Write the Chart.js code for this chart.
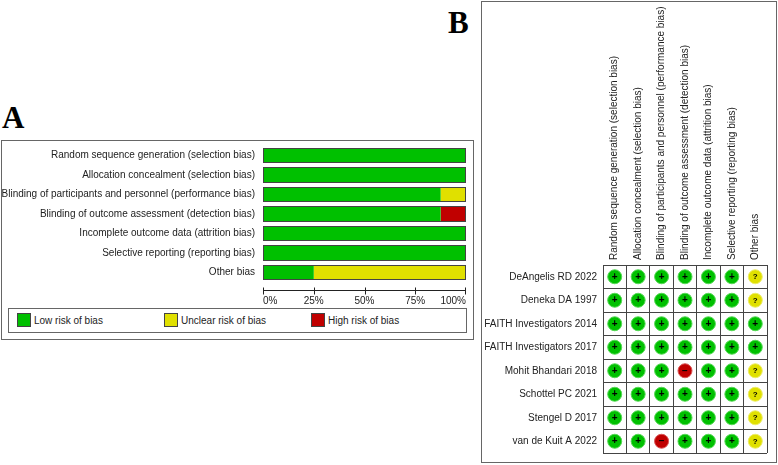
<!DOCTYPE html>
<html>
<head>
<meta charset="utf-8">
<script src="https://cdn.jsdelivr.net/npm/chart.js@4/dist/chart.umd.min.js"></script>
<style>
  body { margin: 0; background: #fff; width: 778px; height: 465px; position: relative; overflow: hidden; }
  .abs { position: absolute; }
  .letter { font-family: "Liberation Serif", serif; font-weight: bold; font-size: 31px; line-height: 31px; color: #000; }
  .frame { border: 1px solid #666; box-sizing: border-box; }
  #legendA { left: 8px; top: 308px; width: 459px; height: 25px; font-family: "Liberation Sans", Arial, sans-serif; font-size: 10px; color: #222; }
  .item { position: absolute; top: 4px; height: 14px; line-height: 15px; white-space: nowrap; }
  .sw { display: inline-block; width: 12px; height: 12px; border: 1px solid #444; vertical-align: top; margin-right: 3px; }
</style>
</head>
<body>
<div class="abs letter" style="left:2px; top:102px;">A</div>
<div class="abs letter" style="left:448px; top:7px;">B</div>

<div class="abs frame" style="left:1px; top:140px; width:473px; height:200px;"></div>
<div class="abs frame" id="legendA"></div>
<canvas id="summary" class="abs" style="left:0px; top:140px;" width="473" height="168"></canvas>

<div class="abs frame" style="left:481px; top:1px; width:296px; height:462px;"></div>
<canvas id="traffic" class="abs" style="left:482px; top:2px;" width="293" height="459"></canvas>

<script>
// risk of bias domains
const domains = [
  'Random sequence generation (selection bias)',
  'Allocation concealment (selection bias)',
  'Blinding of participants and personnel (performance bias)',
  'Blinding of outcome assessment (detection bias)',
  'Incomplete outcome data (attrition bias)',
  'Selective reporting (reporting bias)',
  'Other bias'
];

// panel A: % of studies per judgement
const lowPct     = [100, 100, 87.5, 87.5, 100, 100, 25];
const unclearPct = [0, 0, 12.5, 0, 0, 0, 75];
const highPct    = [0, 0, 0, 12.5, 0, 0, 0];
const pctTicks = [0, 25, 50, 75, 100];

// panel B: judgement per study, one per domain ('+' low, '?' unclear, '-' high)
const studies = [
  'DeAngelis RD 2022',
  'Deneka DA 1997',
  'FAITH Investigators 2014',
  'FAITH Investigators 2017',
  'Mohit Bhandari 2018',
  'Schottel PC 2021',
  'Stengel D 2017',
  'van de Kuit A 2022'
];
const judgements = [
  ['+', '+', '+', '+', '+', '+', '?'],
  ['+', '+', '+', '+', '+', '+', '?'],
  ['+', '+', '+', '+', '+', '+', '+'],
  ['+', '+', '+', '+', '+', '+', '+'],
  ['+', '+', '+', '-', '+', '+', '?'],
  ['+', '+', '+', '+', '+', '+', '?'],
  ['+', '+', '+', '+', '+', '+', '?'],
  ['+', '+', '-', '+', '+', '+', '?']
];

const levelNames  = ['Low risk of bias', 'Unclear risk of bias', 'High risk of bias'];
const levelColors = ['#00c000', '#e0e000', '#c00000'];
const levelRims   = ['#55d855', '#ecec66', '#d85555'];
const levelSigns  = ['+', '?', '-'];
const levelGlyphs = ['+', '?', '\u2212'];

const FONT = "'Liberation Sans', Arial, sans-serif";
Chart.defaults.font.family = FONT;
Chart.defaults.font.size = 10;
Chart.defaults.color = '#222';

// keep the chart area exactly where the scales are fitted
function noPad(s) {
  s.paddingTop = 0; s.paddingBottom = 0; s.paddingLeft = 0; s.paddingRight = 0;
}

// legend for panel A
const legendPos = [8, 155, 302];
const legendEl = document.getElementById('legendA');
levelNames.forEach((name, i) => {
  const d = document.createElement('div');
  d.className = 'item';
  d.style.left = legendPos[i] + 'px';
  d.innerHTML = '<span class="sw" style="background:' + levelColors[i] + '"></span>' + name;
  legendEl.appendChild(d);
});

// outline around each whole row + separated axis line
const summaryPlugin = {
  id: 'summaryPlugin',
  afterDatasetsDraw(chart) {
    const ctx = chart.ctx;
    const xs = chart.scales.x;
    const meta = chart.getDatasetMeta(0);
    const x0 = Math.round(xs.getPixelForValue(0)) + 0.5;
    const x1 = Math.round(xs.getPixelForValue(100)) - 0.5;
    ctx.save();
    ctx.strokeStyle = '#444';
    ctx.lineWidth = 1;
    meta.data.forEach(bar => {
      const t = Math.round(bar.y - bar.height / 2) + 0.5;
      const b = Math.round(bar.y + bar.height / 2) - 0.5;
      ctx.strokeRect(x0, t, x1 - x0, b - t);
    });
    const ay = Math.round(chart.chartArea.bottom + 8) + 0.5;
    ctx.strokeStyle = '#222';
    ctx.beginPath();
    ctx.moveTo(x0, ay);
    ctx.lineTo(x1, ay);
    pctTicks.forEach(v => {
      const px = Math.round(xs.getPixelForValue(v)) + (v === 100 ? -0.5 : 0.5);
      ctx.moveTo(px, ay - 3);
      ctx.lineTo(px, ay + 4);
    });
    ctx.stroke();
    ctx.restore();
  }
};

new Chart(document.getElementById('summary'), {
  type: 'bar',
  data: {
    labels: domains,
    datasets: levelNames.map((name, i) => ({
      label: name,
      data: [lowPct, unclearPct, highPct][i],
      backgroundColor: levelColors[i],
      borderWidth: 0,
      categoryPercentage: 1,
      barPercentage: 0.77
    }))
  },
  options: {
    indexAxis: 'y',
    responsive: false,
    animation: false,
    events: [],
    layout: { padding: { top: 5.75, right: 7, bottom: 0, left: 0 } },
    plugins: { legend: { display: false }, tooltip: { enabled: false } },
    scales: {
      x: {
        stacked: true,
        min: 0,
        max: 100,
        afterBuildTicks: s => { s.ticks = pctTicks.map(v => ({ value: v })); },
        afterFit: s => { s.height = 25.75; noPad(s); },
        ticks: { callback: v => v + '%', align: 'inner', padding: 13, color: '#222' },
        grid: { display: false, drawTicks: false },
        border: { display: false }
      },
      y: {
        stacked: true,
        afterFit: s => { s.width = 263; noPad(s); },
        ticks: { padding: 8, color: '#222' },
        grid: { display: false, drawTicks: false },
        border: { display: false }
      }
    }
  },
  plugins: [summaryPlugin]
});

// panel B: one dataset per judgement level
const trafficSets = levelSigns.map((sign, k) => {
  const pts = [];
  studies.forEach((s, r) => {
    judgements[r].forEach((j, c) => {
      if (j === sign) pts.push({ x: domains[c], y: s });
    });
  });
  return {
    label: levelNames[k],
    data: pts,
    pointRadius: 7,
    pointBackgroundColor: levelColors[k],
    pointBorderColor: levelRims[k],
    pointBorderWidth: 1
  };
});

const signPlugin = {
  id: 'signPlugin',
  afterDatasetsDraw(chart) {
    const ctx = chart.ctx;
    ctx.save();
    ctx.fillStyle = '#000';
    ctx.textAlign = 'center';
    ctx.textBaseline = 'middle';
    chart.data.datasets.forEach((ds, k) => {
      ctx.font = 'bold ' + (k === 1 ? 8 : 10) + 'px ' + FONT;
      chart.getDatasetMeta(k).data.forEach(pt => {
        ctx.fillText(levelGlyphs[k], pt.x, pt.y + (k === 1 ? 0.5 : 0));
      });
    });
    ctx.restore();
  }
};

new Chart(document.getElementById('traffic'), {
  type: 'scatter',
  data: { datasets: trafficSets },
  options: {
    responsive: false,
    animation: false,
    events: [],
    layout: { padding: { top: 0, right: 5, bottom: 5, left: 0 } },
    plugins: { legend: { display: false }, tooltip: { enabled: false } },
    scales: {
      x: {
        type: 'category',
        labels: domains,
        position: 'top',
        offset: true,
        afterFit: s => { s.height = 263; noPad(s); },
        ticks: { autoSkip: false, minRotation: 90, maxRotation: 90, padding: 5, labelOffset: 12, color: '#222' },
        grid: { offset: true, color: '#444', drawTicks: false },
        border: { color: '#444' }
      },
      y: {
        type: 'category',
        labels: studies,
        offset: true,
        afterFit: s => { s.width = 121; noPad(s); },
        ticks: { autoSkip: false, padding: 6, color: '#222' },
        grid: { offset: true, color: '#444', drawTicks: false },
        border: { color: '#444' }
      }
    }
  },
  plugins: [signPlugin]
});
</script>
</body>
</html>
